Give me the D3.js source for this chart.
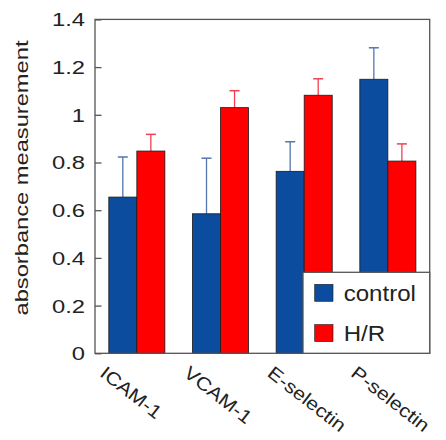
<!DOCTYPE html>
<html>
  <head>
    <meta http-equiv="Content-Type" content="text/html;charset=utf-8"/>
    <title>Absorbance</title>
    <script src="https://d3js.org/d3.v7.min.js"></script>
    <style>
      body { margin: 0; background: #fff; }
      svg text { font-family: "Liberation Sans", Arial, sans-serif; fill: #222; }
    </style>
  </head>
  <body>
    <div id="chart"></div>
    <script type="text/javascript">
      const categories = ['ICAM-1', 'VCAM-1', 'E-selectin', 'P-selectin']
      const series = ['control', 'H/R']
      const controlMean = [0.655, 0.585, 0.763, 1.149]
      const controlErr = [0.168, 0.233, 0.124, 0.132]
      const hrMean = [0.848, 1.03, 1.082, 0.806]
      const hrErr = [0.07, 0.071, 0.069, 0.072]
      const yTicks = [0, 0.2, 0.4, 0.6, 0.8, 1, 1.2, 1.4]
      const yTickLabels = ['0', '0.2', '0.4', '0.6', '0.8', '1', '1.2', '1.4']

      const width = 446,
            height = 440,
            plotLeft = 95,
            plotTop = 19.4,
            plotRight = 429.7,
            plotBottom = 353.3

      const colors = { 'control': '#0b4c9f', 'H/R': '#ff0000' }
      const errColors = { 'control': '#5277ad', 'H/R': '#f2404e' }

      const rows = []
      categories.forEach((c, i) => {
        rows.push({ cat: c, s: 'control', v: controlMean[i], e: controlErr[i] })
        rows.push({ cat: c, s: 'H/R', v: hrMean[i], e: hrErr[i] })
      })

      const x = d3.scaleBand().domain(categories).range([plotLeft, plotRight])
                  .paddingInner(0.33).paddingOuter(0.165)
      const xs = d3.scaleBand().domain(series).range([0, x.bandwidth()])
      const y = d3.scaleLinear().domain([0, 1.4]).range([plotBottom, plotTop])

      const svg = d3.select('#chart').append('svg').attr('width', width).attr('height', height)

      // error bars (only upward), drawn under the bars
      const err = svg.append('g')
      err.selectAll('line.stem').data(rows).enter().append('line')
        .attr('x1', d => x(d.cat) + xs(d.s) + xs.bandwidth() / 2)
        .attr('x2', d => x(d.cat) + xs(d.s) + xs.bandwidth() / 2)
        .attr('y1', d => y(d.v))
        .attr('y2', d => y(d.v + d.e))
        .attr('stroke', d => errColors[d.s]).attr('stroke-width', 1.3)
      err.selectAll('line.cap').data(rows).enter().append('line')
        .attr('x1', d => x(d.cat) + xs(d.s) + xs.bandwidth() / 2 - 5)
        .attr('x2', d => x(d.cat) + xs(d.s) + xs.bandwidth() / 2 + 5)
        .attr('y1', d => y(d.v + d.e))
        .attr('y2', d => y(d.v + d.e))
        .attr('stroke', d => errColors[d.s]).attr('stroke-width', 1.5)

      svg.append('g').selectAll('rect').data(rows).enter().append('rect')
        .attr('x', d => x(d.cat) + xs(d.s))
        .attr('y', d => y(d.v))
        .attr('width', xs.bandwidth())
        .attr('height', d => y(0) - y(d.v))
        .attr('fill', d => colors[d.s])
        .attr('stroke', '#1a1a1a').attr('stroke-width', 0.8)

      // frame
      svg.append('rect')
        .attr('x', plotLeft).attr('y', plotTop)
        .attr('width', plotRight - plotLeft).attr('height', plotBottom - plotTop)
        .attr('fill', 'none').attr('stroke', '#555').attr('stroke-width', 1.3)

      // y axis, ticks pointing inward
      const yAxis = d3.axisLeft(y).tickValues(yTicks).tickSize(-6.5).tickFormat('')
      const ya = svg.append('g').attr('transform', 'translate(' + plotLeft + ',0)').call(yAxis)
      ya.select('.domain').remove()
      ya.selectAll('.tick line').attr('stroke', '#555').attr('stroke-width', 1.3)

      svg.append('g').selectAll('text').data(yTicks).enter().append('text')
        .attr('transform', d => 'translate(85,' + (y(d) + 6.9) + ') scale(1.25,1)')
        .attr('text-anchor', 'end')
        .style('font-size', '19px')
        .text((d, i) => yTickLabels[i])

      svg.append('text')
        .attr('transform', 'translate(28,178) rotate(-90) scale(1.28,1)')
        .attr('text-anchor', 'middle')
        .style('font-size', '18.5px')
        .text('absorbance measurement')

      // x labels, rotated
      svg.append('g').selectAll('text').data(categories).enter().append('text')
        .attr('transform', d => 'translate(' + (x(d) + x.bandwidth() / 2 - 38) + ',' + (plotBottom + 22) + ') rotate(38) scale(1.15,1)')
        .attr('text-anchor', 'start')
        .style('font-size', '18.5px')
        .text(d => d)

      // legend
      const lw = 126.7, lh = 81
      const lg = svg.append('g').attr('transform', 'translate(' + (plotRight - lw) + ',' + (plotBottom - lh) + ')')
      lg.append('rect').attr('width', lw).attr('height', lh)
        .attr('fill', '#fff').attr('stroke', '#555').attr('stroke-width', 1.3)
      series.forEach((s, i) => {
        lg.append('rect')
          .attr('x', 11.7).attr('y', 12 + i * 40.3)
          .attr('width', 18.3).attr('height', 17)
          .attr('fill', colors[s]).attr('stroke', '#1a1a1a').attr('stroke-width', 0.6)
        lg.append('text')
          .attr('transform', 'translate(40.7,' + (29 + i * 39.5) + ') scale(1.12,1)')
          .style('font-size', '21.5px')
          .text(s)
      })
    </script>
  </body>
</html>
